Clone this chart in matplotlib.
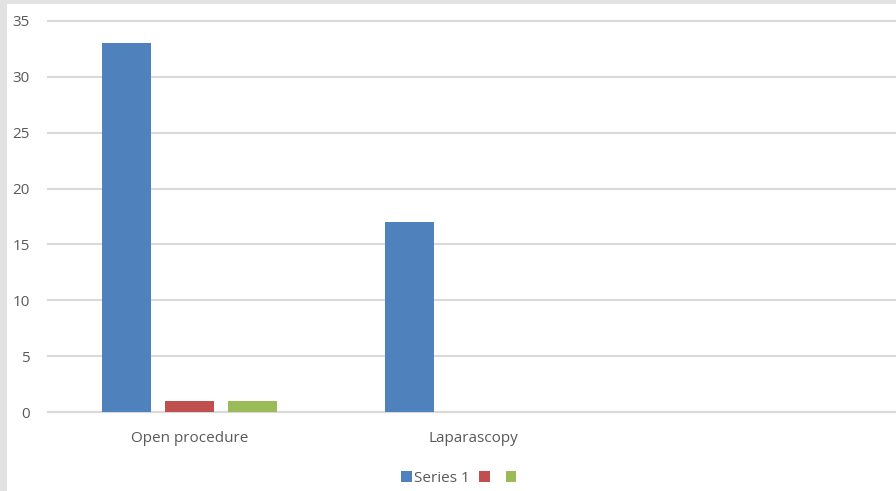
import matplotlib.pyplot as plt
import matplotlib.patches as mpatches
import numpy as np

categories = ['Open procedure', 'Laparascopy', '']
series1 = [33, 17, 0]
series2 = [1, 0, 0]
series3 = [1, 0, 0]
labels = ['Series 1', ' ', ' ']
colors = ['#4F81BD', '#C0504D', '#9BBB59']

plt.rcParams['font.family'] = ['Open Sans', 'DejaVu Sans']

fig = plt.figure(figsize=(8.96, 4.91), dpi=100)
fig.patch.set_facecolor('#e2e2e2')
# white chart area inside the gray frame
fig.patches.append(mpatches.Rectangle((7/896, 0), 1, 487/491, transform=fig.transFigure,
                                      facecolor='white', edgecolor='none', zorder=-5))

ax = fig.add_axes([48/896, 79/491, 850/896, 391/491])
ax.set_facecolor('none')
ax.set_zorder(1)

x = np.arange(len(categories))
w = 49/283
step = 63/283
for i, (vals, lab) in enumerate(zip([series1, series2, series3], labels)):
    ax.bar(x + (i - 1)*step, vals, width=w, color=colors[i], label=lab, zorder=3)

ax.set_xlim(-0.5, 2.5)
ax.set_ylim(0, 35)
ax.set_yticks(range(0, 36, 5))
ax.set_xticks(x)
ax.set_xticklabels(categories)
ax.grid(axis='y', color='#d9d9d9', linewidth=1.5, zorder=0)
for gl in ax.get_ygridlines():
    gl.set_clip_on(False)
for s in ['top', 'right', 'left']:
    ax.spines[s].set_visible(False)
ax.spines['bottom'].set_color('#d9d9d9')
ax.spines['bottom'].set_linewidth(1.5)
ax.tick_params(axis='both', length=0, labelsize=11, labelcolor='#595959')
ax.tick_params(axis='y', pad=13)
ax.tick_params(axis='x', pad=14)

leg = ax.legend(loc='center', bbox_to_anchor=(462/896, 13/491), bbox_transform=fig.transFigure,
                ncol=3, frameon=False, fontsize=11, handlelength=0.7, handleheight=0.7,
                handletextpad=0.15, columnspacing=0.6)
for t in leg.get_texts():
    t.set_color('#595959')

fig.savefig('out.png', dpi=100, facecolor=fig.get_facecolor())
